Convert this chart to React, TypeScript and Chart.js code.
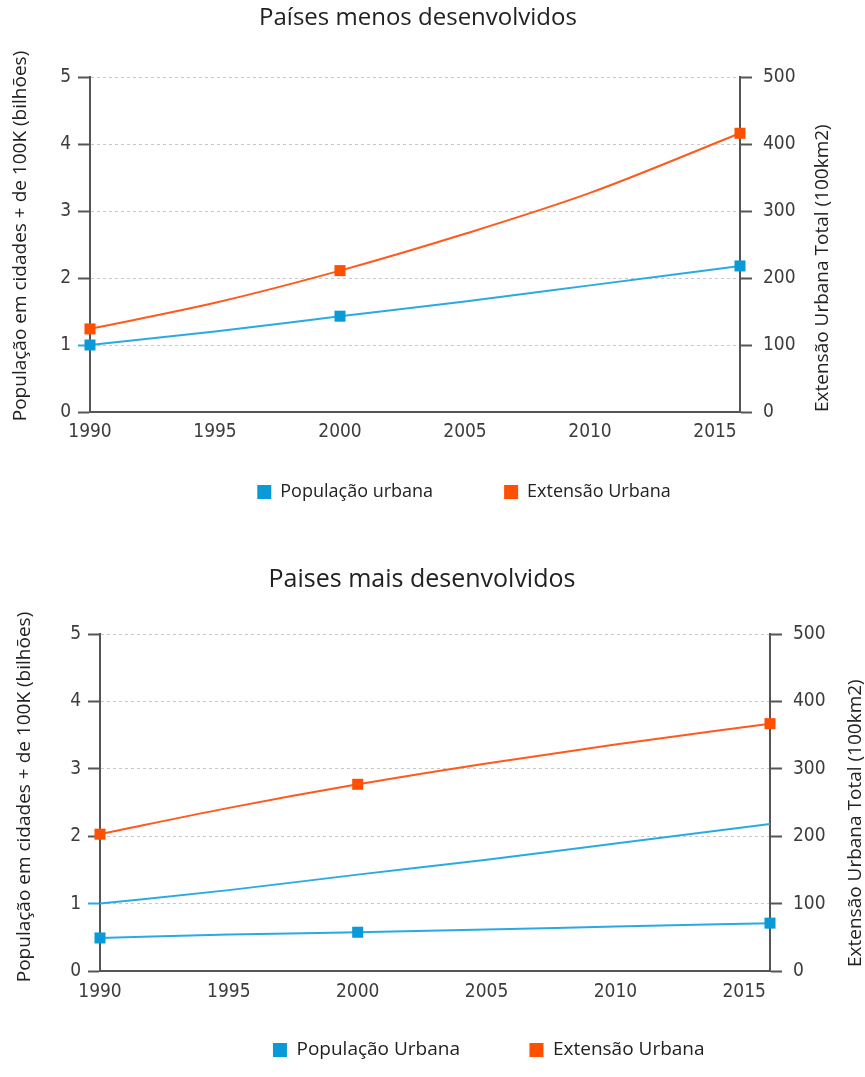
import React, { useEffect, useRef } from 'react';
import { Chart, registerables } from 'chart.js';

Chart.register(...registerables);

// ---- data -------------------------------------------------------------
const years = [1990, 1995, 2000, 2005, 2010, 2016];
const surveyYears = [1990, 2000, 2016]; // years drawn with a square marker
const xTickYears = [1990, 1995, 2000, 2005, 2010, 2015];
const leftTicks = [0, 1, 2, 3, 4, 5];
const rightTicks = [0, 100, 200, 300, 400, 500];

// Países menos desenvolvidos
const lessPopulation = [1.0, 1.2, 1.43, 1.65, 1.89, 2.18]; // bilhões
const lessExtent = [124, 163, 211, 266, 327, 416]; // 100 km²

// Paises mais desenvolvidos
const morePopulation = [0.49, 0.54, 0.575, 0.615, 0.66, 0.71];
const moreExtent = [203, 242, 277, 308, 336, 367];

// ---- styles -----------------------------------------------------------
const BLUE = '#0a9ad8';
const BLUE_LINE = '#2aaae2';
const ORANGE = '#ff4f00';
const ORANGE_LINE = '#ff5a1e';
const AXIS = '#555555';
const GRID = '#c8c8c8';
const TICK_COLOR = '#3c3c3c';
const TEXT_COLOR = '#222222';
const TICK_FONT = "'Liberation Sans Narrow', 'Arial Narrow', 'DejaVu Sans Condensed', sans-serif";
const TEXT_FONT = "'Open Sans', 'Noto Sans', sans-serif";

type Panel = {
  title: string;
  popLabel: string;
  extLabel: string;
  population: number[];
  extent: number[];
  unmarked?: number[];
  canvasTop: number;
  height: number;
  padding: { left: number; right: number; top: number; bottom: number };
  leftW: number;
  rightW: number;
  legendSize: number;
  legendPad: number;
  xPad: number;
  titleSize: number;
  titleX: number;
  titleY: number;
  leftX: number;
  leftY: number;
  rightX: number;
  rightBottom: number;
};

const panels: Panel[] = [
  {
    title: 'Países menos desenvolvidos',
    popLabel: 'População urbana',
    extLabel: 'Extensão Urbana',
    population: lessPopulation,
    extent: lessExtent,
    canvasTop: 0,
    height: 530,
    padding: { left: 55, right: -8, top: 77, bottom: 19 },
    leftW: 35,
    rightW: 133,
    legendSize: 18,
    legendPad: 71,
    xPad: -31.4,
    titleSize: 24,
    titleX: 418,
    titleY: 18,
    leftX: 21,
    leftY: 236,
    rightX: 823,
    rightBottom: 412,
  },
  {
    title: 'Paises mais desenvolvidos',
    popLabel: 'População Urbana',
    extLabel: 'Extensão Urbana',
    population: morePopulation,
    extent: moreExtent,
    unmarked: lessPopulation,
    canvasTop: 530,
    height: 547,
    padding: { left: 60, right: -52.5, top: 104, bottom: 7.5 },
    leftW: 40,
    rightW: 147.5,
    legendSize: 19,
    legendPad: 69.5,
    xPad: -32.4,
    titleSize: 25,
    titleX: 422,
    titleY: 50,
    leftX: 25,
    leftY: 267,
    rightX: 856,
    rightBottom: 437,
  },
];

// Chart title and both rotated axis titles (both read bottom-to-top).
const panelTitles = {
  id: 'panelTitles',
  afterDraw(chart: any, _args: any, o: any) {
    const ctx = chart.ctx as CanvasRenderingContext2D;
    ctx.save();
    ctx.fillStyle = TEXT_COLOR;
    ctx.textBaseline = 'middle';
    ctx.font = `${o.titleSize}px ${TEXT_FONT}`;
    ctx.textAlign = 'center';
    ctx.fillText(o.title, o.titleX, o.titleY);

    ctx.font = `${o.axisSize}px ${TEXT_FONT}`;
    ctx.save();
    ctx.translate(o.leftX, o.leftY);
    ctx.rotate(-Math.PI / 2);
    ctx.textAlign = 'center';
    ctx.fillText(o.leftText, 0, 0);
    ctx.restore();

    ctx.save();
    ctx.translate(o.rightX, o.rightBottom);
    ctx.rotate(-Math.PI / 2);
    ctx.textAlign = 'left';
    ctx.fillText(o.rightText, 0, 0);
    ctx.restore();
    ctx.restore();
  },
};

const pts = (vals: number[]) => years.map((x, i) => ({ x, y: vals[i] }));
const markerRadius = (c: any) => (c.raw && surveyYears.includes(c.raw.x) ? 7.8 : 0);

function buildConfig(p: Panel): any {
  const tickFont = { family: TICK_FONT, size: 19 };
  const datasets: any[] = [
    {
      label: p.popLabel,
      data: pts(p.population),
      yAxisID: 'yLeft',
      borderColor: BLUE_LINE,
      backgroundColor: BLUE,
      borderWidth: 2,
      pointStyle: 'rect',
      pointRadius: markerRadius,
      pointBorderWidth: 0,
      pointBackgroundColor: BLUE,
      cubicInterpolationMode: 'monotone',
      clip: false,
    },
    {
      label: p.extLabel,
      data: pts(p.extent),
      yAxisID: 'yRight',
      borderColor: ORANGE_LINE,
      backgroundColor: ORANGE,
      borderWidth: 2,
      pointStyle: 'rect',
      pointRadius: markerRadius,
      pointBorderWidth: 0,
      pointBackgroundColor: ORANGE,
      cubicInterpolationMode: 'monotone',
      clip: false,
    },
  ];
  if (p.unmarked) {
    datasets.push({
      label: p.popLabel,
      data: pts(p.unmarked),
      yAxisID: 'yLeft',
      borderColor: BLUE_LINE,
      backgroundColor: BLUE,
      borderWidth: 2,
      pointRadius: 0,
      cubicInterpolationMode: 'monotone',
      clip: false,
    });
  }
  const legendColors = [BLUE, ORANGE];

  return {
    type: 'line',
    data: { datasets },
    plugins: [panelTitles],
    options: {
      responsive: false,
      animation: false,
      devicePixelRatio: 1,
      layout: { padding: p.padding },
      plugins: {
        title: { display: false },
        tooltip: { enabled: false },
        legend: {
          display: true,
          position: 'bottom',
          labels: {
            boxWidth: 14,
            boxHeight: 14,
            padding: p.legendPad,
            color: TEXT_COLOR,
            font: { family: TEXT_FONT, size: p.legendSize },
            generateLabels: (chart: any) =>
              (Chart.defaults.plugins.legend.labels as any)
                .generateLabels(chart)
                .filter((l: any) => l.datasetIndex < 2)
                .map((l: any) => ({
                  ...l,
                  fillStyle: legendColors[l.datasetIndex],
                  strokeStyle: legendColors[l.datasetIndex],
                  lineWidth: 0,
                })),
          },
        },
        panelTitles: {
          title: p.title,
          titleSize: p.titleSize,
          titleX: p.titleX,
          titleY: p.titleY,
          axisSize: 19,
          leftText: 'População em cidades + de 100K (bilhões)',
          rightText: 'Extensão Urbana Total (100km2)',
          leftX: p.leftX,
          leftY: p.leftY,
          rightX: p.rightX,
          rightBottom: p.rightBottom,
        },
      },
      scales: {
        x: {
          type: 'linear',
          min: years[0],
          max: years[years.length - 1],
          afterBuildTicks: (s: any) => {
            s.ticks = xTickYears.map((value) => ({ value }));
          },
          // the axis takes no layout room; its labels hang below the plot
          afterFit: (s: any) => {
            s.height = 0;
          },
          ticks: {
            callback: (v: any) => String(v),
            font: tickFont,
            color: TICK_COLOR,
            mirror: true,
            padding: p.xPad,
            maxRotation: 0,
            autoSkip: false,
          },
          grid: { display: false },
          border: { display: true, color: AXIS, width: 2 },
        },
        yLeft: {
          type: 'linear',
          position: 'left',
          min: leftTicks[0],
          max: leftTicks[leftTicks.length - 1],
          afterBuildTicks: (s: any) => {
            s.ticks = leftTicks.map((value) => ({ value }));
          },
          afterFit: (s: any) => {
            s.width = p.leftW;
          },
          ticks: { font: tickFont, color: TICK_COLOR, padding: 7 },
          grid: {
            color: (c: any) => (c.tick && c.tick.value === 0 ? 'rgba(0,0,0,0)' : GRID),
            lineWidth: 1,
            tickLength: 12,
            tickWidth: 2,
            tickColor: (c: any) => (c.tick && c.tick.value === 1 ? BLUE_LINE : AXIS),
          },
          border: { display: true, color: AXIS, width: 2, dash: [3, 3] },
        },
        yRight: {
          type: 'linear',
          position: 'right',
          min: rightTicks[0],
          max: rightTicks[rightTicks.length - 1],
          afterBuildTicks: (s: any) => {
            s.ticks = rightTicks.map((value) => ({ value }));
          },
          afterFit: (s: any) => {
            s.width = p.rightW;
          },
          ticks: { font: tickFont, color: TICK_COLOR, padding: 11 },
          grid: { drawOnChartArea: false, tickLength: 12, tickWidth: 2, tickColor: AXIS },
          border: { display: true, color: AXIS, width: 2 },
        },
      },
    },
  };
}

function PanelChart({ panel }: { panel: Panel }) {
  const ref = useRef<HTMLCanvasElement | null>(null);
  useEffect(() => {
    if (!ref.current) return;
    const chart = new Chart(ref.current, buildConfig(panel));
    return () => chart.destroy();
  }, [panel]);
  return (
    <canvas
      ref={ref}
      width={865}
      height={panel.height}
      style={{ position: 'absolute', left: 0, top: panel.canvasTop, width: 865, height: panel.height, display: 'block' }}
    />
  );
}

export default function App() {
  return (
    <div style={{ position: 'absolute', left: 0, top: 0, width: 865, height: 1077, background: '#ffffff', overflow: 'hidden' }}>
      {panels.map((p) => (
        <PanelChart key={p.title} panel={p} />
      ))}
    </div>
  );
}
